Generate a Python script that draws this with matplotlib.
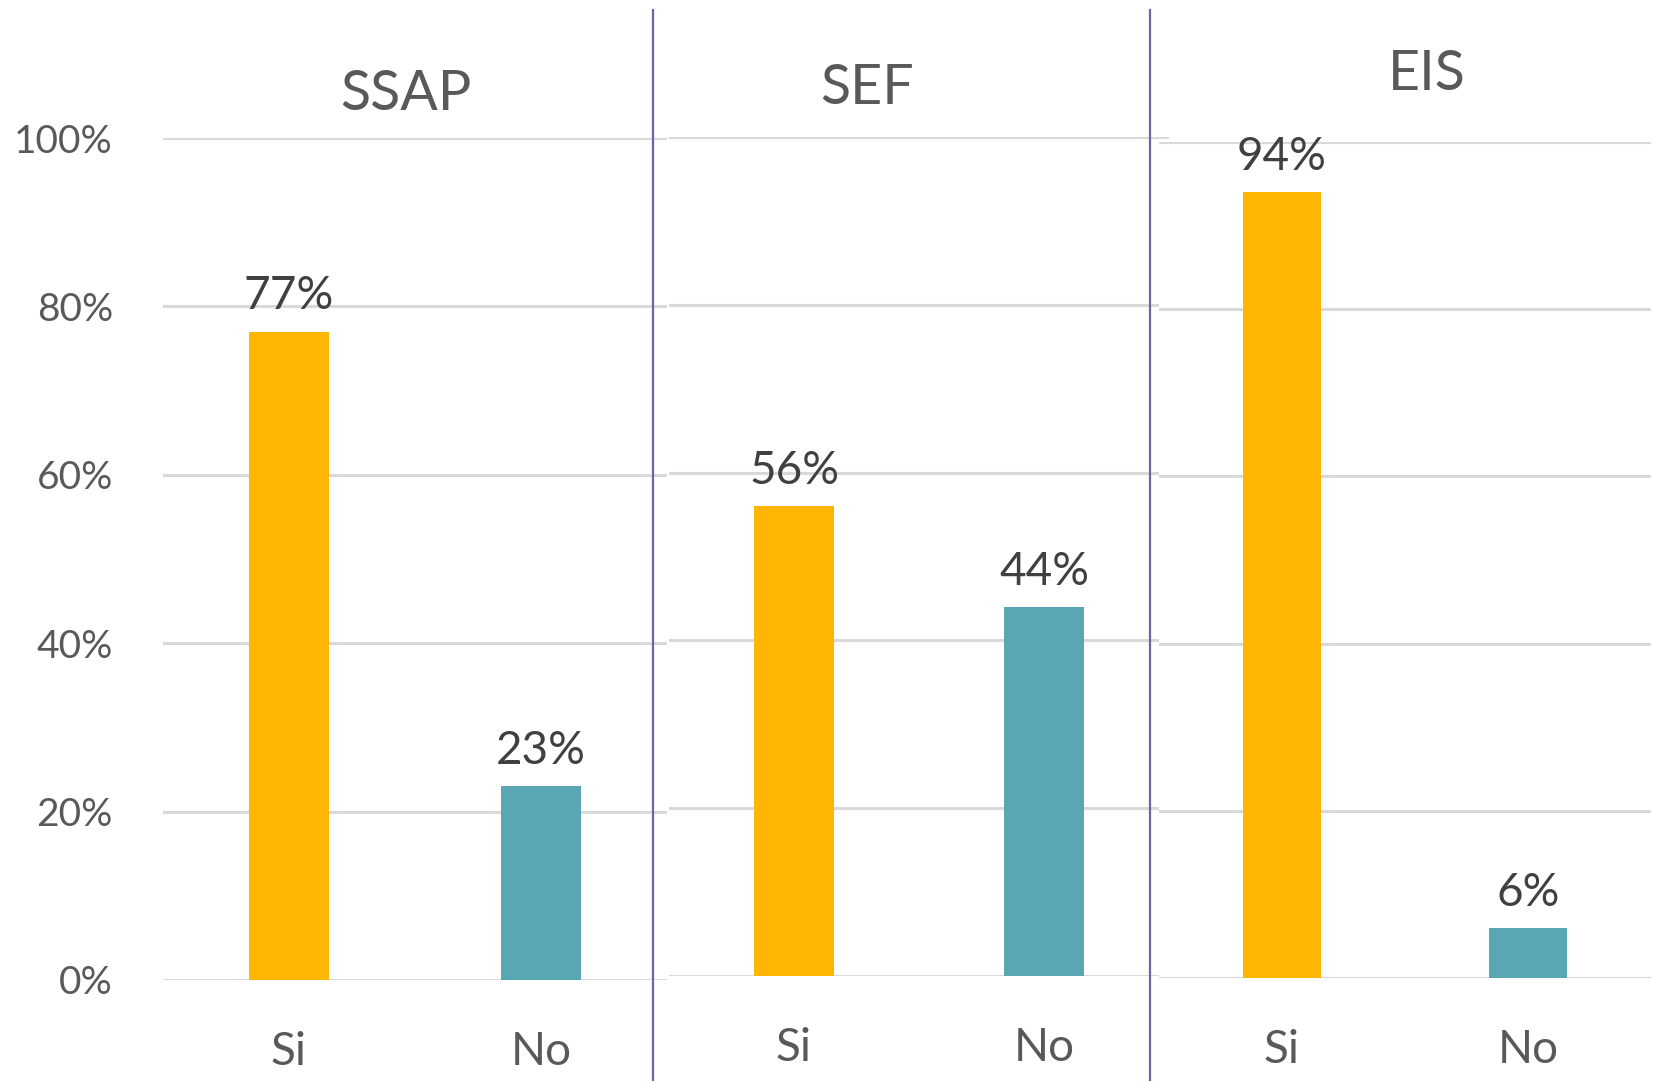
import matplotlib
matplotlib.use("Agg")
import matplotlib.pyplot as plt
from matplotlib.lines import Line2D

plt.rcParams["font.family"] = ["Lato", "DejaVu Sans"]

# data
groups = ["SSAP", "SEF", "EIS"]
categories = ["Si", "No"]
si_values = [0.77, 0.56, 0.94]
no_values = [0.23, 0.44, 0.06]
y_ticks = [0, 0.2, 0.4, 0.6, 0.8, 1.0]
y_tick_labels = ["0%", "20%", "40%", "60%", "80%", "100%"]

W, H = 1653, 1081
fig = plt.figure(figsize=(W / 100, H / 100), dpi=100)

# plot areas in pixels: left, right, top (100%), bottom (0%)
panels_px = [
    (163, 667, 138, 980),
    (669, 1169, 137, 976),
    (1159, 1651, 142, 978),
]
title_px = [(406, 95), (867, 89), (1427, 74)]
divider_x = [652.5, 1150]

ORANGE = "#FFB600"
TEAL = "#5AA7B4"
GRID = "#D9D9D9"
TEXT = "#595959"
LABEL = "#404040"
PURPLE = "#6A64A8"

for i, (l, r, t, b) in enumerate(panels_px):
    ax = fig.add_axes([l / W, 1 - b / H, (r - l) / W, (b - t) / H])
    vals = [si_values[i], no_values[i]]
    bars = ax.bar([0, 1], vals, width=0.32, color=[ORANGE, TEAL], zorder=3)
    ax.set_xlim(-0.5, 1.5)
    ax.set_ylim(0, 1.0)
    ax.set_yticks(y_ticks)
    ax.yaxis.grid(True, color=GRID, linewidth=2.2, zorder=0)
    ax.set_axisbelow(True)
    for s in ax.spines.values():
        s.set_visible(False)
    ax.set_xticks([0, 1])
    ax.set_xticklabels(categories, fontsize=33, color=TEXT)
    ax.tick_params(axis="x", length=0, pad=37)
    if i == 0:
        ax.set_yticklabels(y_tick_labels, fontsize=28, color=TEXT)
        ax.tick_params(axis="y", length=0, pad=36)
    else:
        ax.set_yticklabels([])
        ax.tick_params(axis="y", length=0)
    for bar, v in zip(bars, vals):
        ax.annotate(f"{round(v * 100):d}%", (bar.get_x() + bar.get_width() / 2, v),
                    xytext=(0, 16), textcoords="offset points",
                    ha="center", va="baseline", fontsize=33,
                    color=LABEL, annotation_clip=False)
    tx, ty = title_px[i]
    fig.text(tx / W, 1 - ty / H, groups[i], fontsize=40, color=TEXT,
             ha="center", va="center")

for x in divider_x:
    fig.add_artist(Line2D([x / W, x / W], [0, 1 - 10 / H], color=PURPLE, linewidth=1.6))

fig.savefig("out.png", dpi=100, facecolor="white")
